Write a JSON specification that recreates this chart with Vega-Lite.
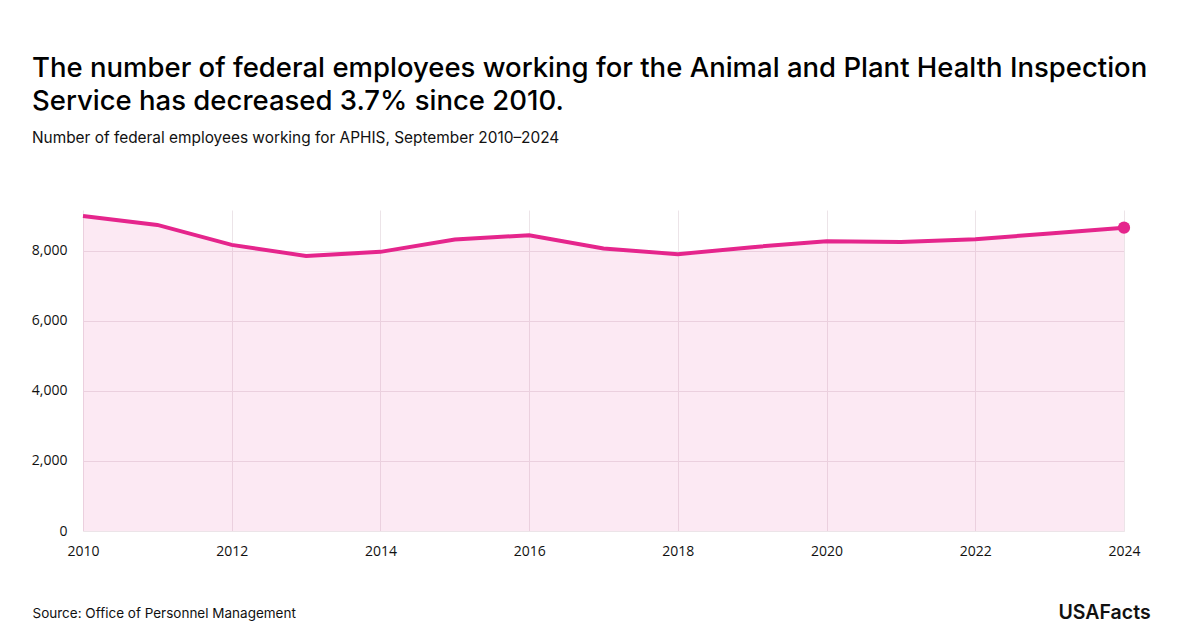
{
  "$schema": "https://vega.github.io/schema/vega-lite/v6.json",
  "autosize": "none",
  "width": 1041,
  "height": 321,
  "padding": {"left": 83, "top": 210, "right": 76, "bottom": 97},
  "background": "white",
  "config": {
    "view": {"stroke": null},
    "font": "Open Sans"
  },
  "title": {
    "text": ["The number of federal employees working for the Animal and Plant Health Inspection", "Service has decreased 3.7% since 2010."],
    "subtitle": "Number of federal employees working for APHIS, September 2010–2024",
    "anchor": "start",
    "frame": "group",
    "dx": -51,
    "font": "Inter",
    "fontSize": 27.5,
    "fontWeight": 500,
    "lineHeight": 33,
    "color": "#000000",
    "subtitleFont": "Inter",
    "subtitleFontSize": 15.4,
    "subtitleColor": "#111111",
    "subtitlePadding": 15,
    "offset": 62
  },
  "data": {
    "values": [
      {"year": 2010, "employees": 9000},
      {"year": 2011, "employees": 8745},
      {"year": 2012, "employees": 8175},
      {"year": 2013, "employees": 7860},
      {"year": 2014, "employees": 7975},
      {"year": 2015, "employees": 8330},
      {"year": 2016, "employees": 8450},
      {"year": 2017, "employees": 8070},
      {"year": 2018, "employees": 7910},
      {"year": 2019, "employees": 8110},
      {"year": 2020, "employees": 8280},
      {"year": 2021, "employees": 8260},
      {"year": 2022, "employees": 8335},
      {"year": 2023, "employees": 8500},
      {"year": 2024, "employees": 8667}
    ]
  },
  "encoding": {
    "x": {
      "field": "year",
      "type": "quantitative",
      "scale": {"domain": [2010, 2024], "nice": false, "zero": false},
      "axis": {
        "values": [2010, 2012, 2014, 2016, 2018, 2020, 2022, 2024],
        "format": "d",
        "ticks": false,
        "domain": true,
        "domainColor": "#ece4e8",
        "grid": true,
        "gridColor": "#ece4e8",
        "labelFontSize": 14,
        "labelColor": "#111111",
        "labelPadding": 13,
        "labelFlush": false,
        "labelFont": "Open Sans",
        "title": "Source: Office of Personnel Management",
        "titleAnchor": "start",
        "titleAlign": "left",
        "titleX": -51,
        "titleY": 75,
        "titleFont": "Inter",
        "titleFontSize": 13.5,
        "titleFontWeight": 400,
        "titleColor": "#111111"
      }
    },
    "y": {
      "field": "employees",
      "type": "quantitative",
      "scale": {"domain": [0, 9171], "nice": false},
      "axis": {
        "values": [0, 2000, 4000, 6000, 8000],
        "format": ",d",
        "ticks": false,
        "domain": false,
        "grid": true,
        "gridColor": "#ece4e8",
        "labelFontSize": 14,
        "labelColor": "#111111",
        "labelPadding": 16,
        "labelFont": "Open Sans",
        "title": "USAFacts",
        "titleAngle": 0,
        "titleAlign": "left",
        "titleBaseline": "middle",
        "titleX": 975,
        "titleY": 402,
        "titleFont": "Inter",
        "titleFontSize": 19.5,
        "titleFontWeight": 600,
        "titleColor": "#111111"
      }
    }
  },
  "layer": [
    {"mark": {"type": "area", "color": "#e5258c", "opacity": 0.1}},
    {"mark": {"type": "line", "color": "#e5258c", "strokeWidth": 4}},
    {
      "transform": [{"filter": "datum.year == 2024"}],
      "mark": {"type": "point", "filled": true, "color": "#e5258c", "size": 150, "opacity": 1}
    }
  ]
}
